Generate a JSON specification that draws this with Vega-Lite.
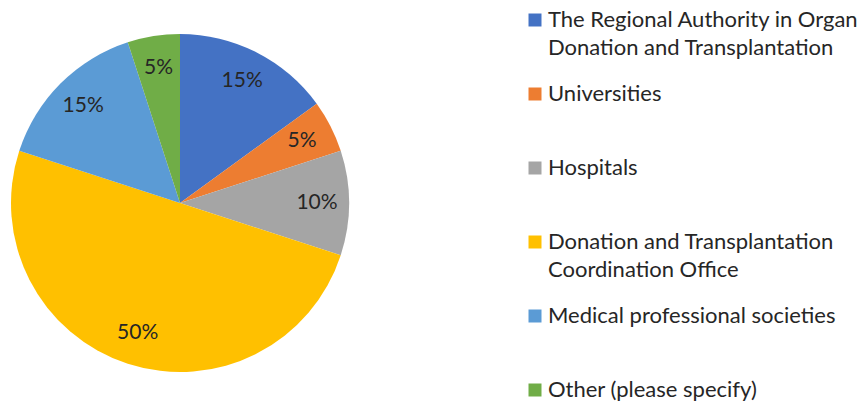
{
  "$schema": "https://vega.github.io/schema/vega-lite/v6.json",
  "width": 360,
  "height": 398,
  "padding": {"left": 0, "top": 4, "right": 0, "bottom": 0},
  "background": "white",
  "config": {"view": {"stroke": null}, "font": "Lato"},
  "data": {
    "values": [
      {"category": "The Regional Authority in Organ Donation and Transplantation", "share": 15, "label": "15%", "order": 1},
      {"category": "Universities", "share": 5, "label": "5%", "order": 2},
      {"category": "Hospitals", "share": 10, "label": "10%", "order": 3},
      {"category": "Donation and Transplantation Coordination Office", "share": 50, "label": "50%", "order": 4},
      {"category": "Medical professional societies", "share": 15, "label": "15%", "order": 5},
      {"category": "Other (please specify)", "share": 5, "label": "5%", "order": 6}
    ]
  },
  "encoding": {
    "theta": {"field": "share", "type": "quantitative", "stack": true},
    "order": {"field": "order", "type": "quantitative"},
    "color": {
      "field": "category",
      "type": "nominal",
      "scale": {
        "domain": [
          "The Regional Authority in Organ Donation and Transplantation",
          "Universities",
          "Hospitals",
          "Donation and Transplantation Coordination Office",
          "Medical professional societies",
          "Other (please specify)"
        ],
        "range": ["#4472C4", "#ED7D31", "#A5A5A5", "#FFC000", "#5B9BD5", "#70AD47"]
      },
      "legend": {
        "title": null,
        "orient": "right",
        "offset": 159,
        "padding": 5,
        "symbolType": "square",
        "symbolSize": 169,
        "symbolStrokeWidth": 0,
        "labelFont": "Lato",
        "labelFontSize": 22,
        "labelColor": "#262626",
        "labelOffset": 2,
        "labelLimit": 500,
        "labelBaseline": "middle",
        "rowPadding": 24,
        "labelExpr": "datum.label == 'The Regional Authority in Organ Donation and Transplantation' ? ['The Regional Authority in Organ', 'Donation and Transplantation'] : datum.label == 'Donation and Transplantation Coordination Office' ? ['Donation and Transplantation', 'Coordination Office'] : [datum.label, '']",
        "encode": {"labels": {"update": {"lineHeight": {"value": 28}}}}
      }
    }
  },
  "layer": [
    {"mark": {"type": "arc", "radius": 169}},
    {
      "mark": {"type": "text", "radius": 137, "fontSize": 21, "font": "Lato", "color": "#262626"},
      "encoding": {"text": {"field": "label", "type": "nominal"}, "color": {"value": "#262626"}}
    }
  ]
}
